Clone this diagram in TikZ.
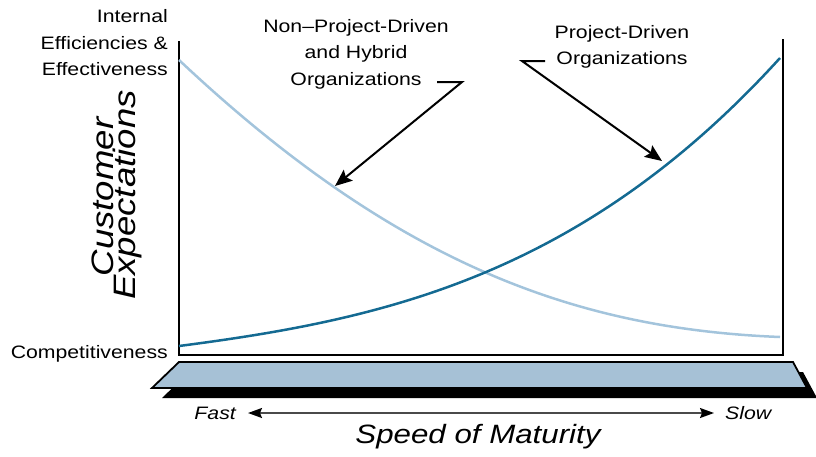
\documentclass[tikz,border=0pt]{standalone}
\usepackage{fontspec}
\setmainfont{Liberation Sans}[FakeStretch=1.18]
\usetikzlibrary{arrows.meta}
\definecolor{lightcurve}{HTML}{A3C4DC}
\definecolor{darkcurve}{HTML}{146A92}
\definecolor{platformfill}{HTML}{A6C1D6}
\definecolor{scalegray}{HTML}{4A4A4A}
\begin{document}
\begin{tikzpicture}[x=1pt,y=-1pt,
  lbl/.style={font=\fontsize{18}{26.5}\selectfont, align=center, inner sep=0pt},
  bigital/.style={font=\fontsize{31}{36}\selectfont\itshape, inner sep=0pt},
  axisline/.style={line width=2.4pt, black, line cap=rect},
  curve/.style={line width=2.5pt},
  callout/.style={line width=2pt, black, -{Stealth[length=17pt,width=14pt,inset=3pt]}},
  scalearrow/.style={line width=1.6pt, scalegray, {Stealth[length=14pt,width=10pt,inset=2pt,color=black]}-{Stealth[length=14pt,width=10pt,inset=2pt,color=black]}}
]
\useasboundingbox (0,0) rectangle (816,456);
% platform shadow and platform
\fill[black] (189,372) -- (803,372) -- (817,398) -- (162,398) -- cycle;
\filldraw[fill=platformfill, draw=black, line width=1.8pt, line join=miter] (179,362) -- (793,362) -- (807,388) -- (152,388) -- cycle;
% frame
\draw[axisline] (179,42) -- (179,355) -- (783,355) -- (783,40);
% curves
\draw[curve, lightcurve] (179,60) .. controls (399,267) and (580,329) .. (780,337);
\draw[curve, darkcurve] (179,346) .. controls (379,320) and (580,278) .. (780,58);
% labels
\node[lbl] (npd) at (356,54) {Non–Project-Driven\\and Hybrid\\Organizations};
\node[lbl] (pd) at (622,47) {Project-Driven\\Organizations};
\node[lbl, anchor=east, align=right] (iee) at (168,43) {Internal\\Efficiencies \&\\Effectiveness};
\node[lbl, anchor=east] (comp) at (168,354) {Competitiveness};
\node[bigital, rotate=90, anchor=base] (cust) at (113,197) {Customer};
\node[bigital, rotate=90, anchor=base] (expc) at (135,195) {Expectations};
% callouts
\coordinate (npdA) at (437,82);
\coordinate (npdB) at (462,82);
\coordinate (npdTip) at (335,186);
\coordinate (pdA) at (545,61);
\coordinate (pdB) at (522,61);
\coordinate (pdTip) at (662,161);
\draw[callout] (npdA) -- (npdB) -- (npdTip);
\draw[callout] (pdA) -- (pdB) -- (pdTip);
% scale
\node[lbl, font=\fontsize{18}{22}\selectfont\itshape, anchor=east] (fast) at (236,413) {Fast};
\node[lbl, font=\fontsize{18}{22}\selectfont\itshape, anchor=west] (slow) at (725,413) {Slow};
\draw[scalearrow, shorten <=12pt, shorten >=11pt] (fast.east) -- (slow.west);
\node[font=\fontsize{26.5}{30}\selectfont\itshape, inner sep=0pt] (speed) at (478,437) {Speed of Maturity};
\end{tikzpicture}
\end{document}
